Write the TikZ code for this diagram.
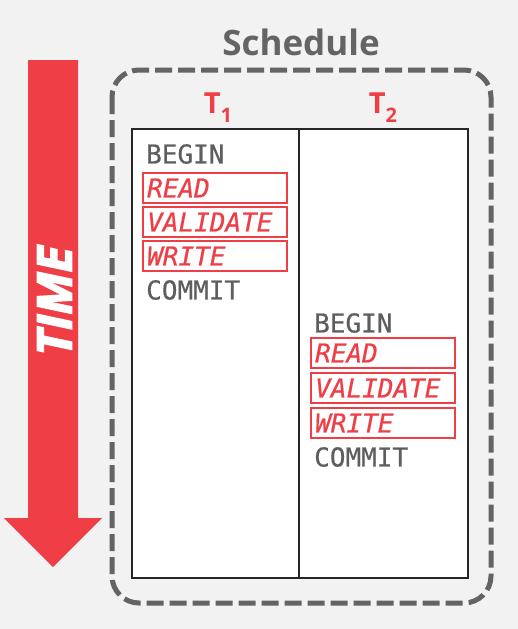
\documentclass[tikz,border=0pt]{standalone}
\usepackage{fontspec}
\setmainfont{Open Sans}
\newfontfamily\monof[FakeBold=0.6]{DejaVu Sans Mono}
\newcommand\strokeon[1]{\special{pdf:literal direct 2 Tr #1 w}}
\newcommand\strokeoff{\special{pdf:literal direct 0 Tr}}
\definecolor{bg}{HTML}{F2F2F2}
\definecolor{dred}{HTML}{EF3E45}
\definecolor{dgray}{HTML}{646464}
\definecolor{tgray}{HTML}{5E5E5E}
\tikzset{
  optbox/.style={draw=dred, line width=1.8pt, minimum width=144pt, minimum height=30pt, inner sep=0pt},
  optlabel/.style={anchor=west, text=dred, font=\monof\itshape\fontsize{26}{26}\selectfont, inner sep=0pt},
  plainlabel/.style={anchor=west, text=tgray, font=\monof\fontsize{26}{26}\selectfont, inner sep=0pt},
  tlabel/.style={text=dred, font=\bfseries\fontsize{29}{29}\selectfont, inner sep=0pt}
}
\begin{document}
\begin{tikzpicture}[x=1pt,y=-1pt]
\useasboundingbox (0,0) rectangle (518,629);
\fill[bg] (0,0) rectangle (518,629);
% time arrow
\fill[dred] (28,60) -- (78,60) -- (78,518) -- (102,518) -- (53,567) -- (4,518) -- (28,518) -- cycle;
\node[rotate=90, text=white, font=\bfseries\itshape\fontsize{48}{48}\selectfont, inner sep=0pt] (time) at (54.5,301) {\strokeon{1.6}TIME\strokeoff};
% schedule box
\draw[dgray, line width=5pt, dash pattern=on 17pt off 6pt, rounded corners=27pt] (112,70) rectangle (491,603);
\node[text=dgray, font=\bfseries\fontsize{35}{35}\selectfont, inner sep=0pt, anchor=base] (sched) at (301,55) {Schedule};
% table
\fill[white] (132,129) rectangle (468,578);
\draw[black!85, line width=1.5pt] (132,129) rectangle (468,578);
\draw[black!85, line width=1.5pt] (299,129) -- (299,578);
\node[tlabel, anchor=base] (t1) at (218,113) {T\raisebox{-9pt}{\fontsize{20}{20}\selectfont 1}};
\node[tlabel, anchor=base] (t2) at (383,113) {T\raisebox{-9pt}{\fontsize{20}{20}\selectfont 2}};
% T1
\node[plainlabel] (b1) at (146,154) {BEGIN};
\node[optbox] (r1box) at (215,188) {};
\node[optlabel] (r1) at (147,188) {READ};
\node[optbox] (v1box) at (215,222) {};
\node[optlabel] (v1) at (147,222) {VALIDATE};
\node[optbox] (w1box) at (215,256) {};
\node[optlabel] (w1) at (147,256) {WRITE};
\node[plainlabel] (c1) at (146,290) {COMMIT};
% T2
\node[plainlabel] (b2) at (314,323) {BEGIN};
\node[optbox] (r2box) at (383,353) {};
\node[optlabel] (r2) at (315,353) {READ};
\node[optbox] (v2box) at (383,388) {};
\node[optlabel] (v2) at (315,388) {VALIDATE};
\node[optbox] (w2box) at (383,423) {};
\node[optlabel] (w2) at (315,423) {WRITE};
\node[plainlabel] (c2) at (314,457) {COMMIT};
\end{tikzpicture}
\end{document}
